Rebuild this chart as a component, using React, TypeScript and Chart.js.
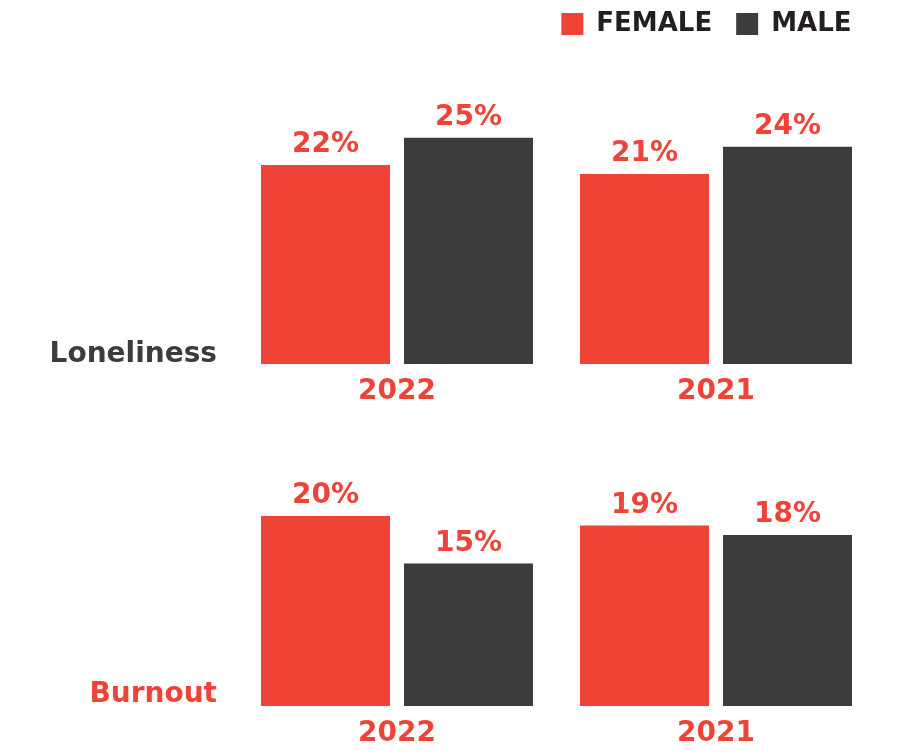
import React, { useEffect, useRef } from 'react';
import { Chart, registerables } from 'chart.js';

Chart.register(...registerables);

// ---- data ----
const categories = ['2022', '2021'];
const seriesLabels = ['FEMALE', 'MALE'];
const panelLabels = ['Loneliness', 'Burnout'];
const lonelinessFemale = [22, 21];
const lonelinessMale = [25, 24];
const burnoutFemale = [20, 19];
const burnoutMale = [15, 18];

// ---- styles ----
const FONT = '"DejaVu Sans", sans-serif';
const RED = '#EF4338';
const DARK = '#3C3C3C';

const valueLabelPlugin = {
  id: 'valueLabels',
  afterDatasetsDraw(chart: any) {
    const ctx = chart.ctx;
    ctx.save();
    ctx.font = `bold 28px ${FONT}`;
    ctx.fillStyle = RED;
    ctx.textAlign = 'center';
    ctx.textBaseline = 'alphabetic';
    chart.data.datasets.forEach((ds: any, i: number) => {
      const meta = chart.getDatasetMeta(i);
      meta.data.forEach((bar: any, j: number) => {
        ctx.fillText(ds.data[j] + '%', bar.x, bar.y - 13);
      });
    });
    ctx.restore();
  },
};

const rowLabelPlugin = {
  id: 'rowLabel',
  afterDraw(chart: any, _args: any, opts: any) {
    if (!opts || !opts.text) return;
    const { ctx, chartArea } = chart;
    ctx.save();
    ctx.font = `bold 28px ${FONT}`;
    ctx.fillStyle = opts.color;
    ctx.textAlign = 'right';
    ctx.textBaseline = 'alphabetic';
    ctx.fillText(opts.text, opts.x, chartArea.bottom - opts.lift);
    ctx.restore();
  },
};

type PanelProps = {
  top: number;
  height: number;
  female: number[];
  male: number[];
  label: string;
  labelColor: string;
  labelLift: number;
  yMax: number;
  axisHeight: number;
  padTop: number;
  tickPad: number;
  showLegend: boolean;
};

function Panel(p: PanelProps) {
  const ref = useRef<HTMLCanvasElement | null>(null);
  useEffect(() => {
    if (!ref.current) return;
    const chart = new Chart(ref.current, {
      type: 'bar',
      data: {
        labels: categories,
        datasets: [
          { label: seriesLabels[0], data: p.female, backgroundColor: RED, borderWidth: 0 },
          { label: seriesLabels[1], data: p.male, backgroundColor: DARK, borderWidth: 0 },
        ],
      },
      options: {
        animation: false,
        responsive: true,
        maintainAspectRatio: false,
        events: [],
        categoryPercentage: 0.8966,
        barPercentage: 0.902,
        layout: { padding: { left: 237.5, right: 33.5, top: p.padTop, bottom: 0 } },
        scales: {
          x: {
            grid: { display: false, drawTicks: false },
            border: { display: false },
            ticks: {
              color: RED,
              padding: p.tickPad,
              font: { family: FONT, size: 28, weight: 'bold' },
            },
            afterFit: (scale: any) => {
              scale.height = p.axisHeight;
            },
          },
          y: {
            display: false,
            min: 0,
            max: p.yMax,
          },
        },
        plugins: {
          tooltip: { enabled: false },
          legend: {
            display: p.showLegend,
            position: 'top',
            align: 'end',
            labels: {
              boxWidth: 22,
              boxHeight: 22,
              padding: 24,
              color: '#231F20',
              font: { family: FONT, size: 26, weight: 'bold' },
            },
          },
          rowLabel: { text: p.label, color: p.labelColor, x: 217, lift: p.labelLift },
        } as any,
      },
      plugins: [valueLabelPlugin, rowLabelPlugin],
    } as any);
    return () => chart.destroy();
  }, []);
  return (
    <div style={{ position: 'absolute', left: 0, top: p.top, width: 909, height: p.height }}>
      <canvas ref={ref} />
    </div>
  );
}

export default function App() {
  return (
    <div
      style={{
        position: 'fixed',
        left: 0,
        top: 0,
        width: 909,
        height: 754,
        background: '#fff',
        overflow: 'hidden',
      }}
    >
      <Panel
        top={0}
        height={430}
        female={lonelinessFemale}
        male={lonelinessMale}
        label={panelLabels[0]}
        labelColor={DARK}
        labelLift={2}
        yMax={35.03}
        axisHeight={66}
        padTop={-13}
        tickPad={11}
        showLegend={true}
      />
      <Panel
        top={430}
        height={324}
        female={burnoutFemale}
        male={burnoutMale}
        label={panelLabels[1]}
        labelColor={RED}
        labelLift={4}
        yMax={25}
        axisHeight={48}
        padTop={38.5}
        tickPad={11}
        showLegend={false}
      />
    </div>
  );
}
